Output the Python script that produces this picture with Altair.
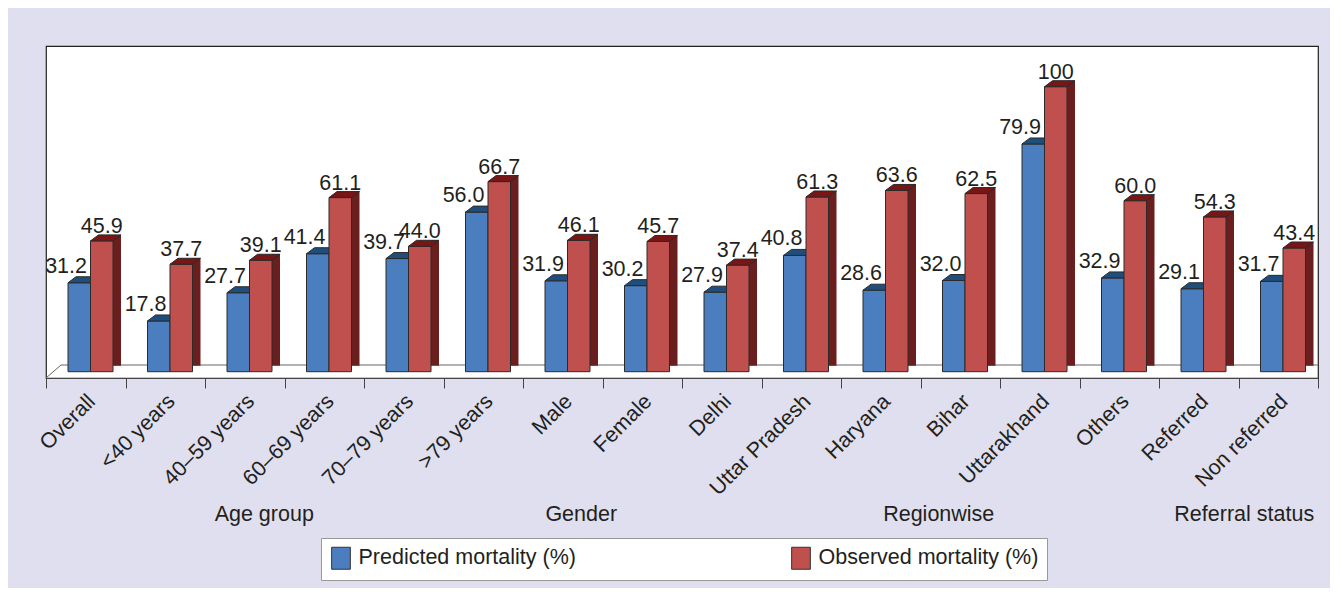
import altair as alt
import pandas as pd

categories = ["Overall", "<40 years", "40–59 years", "60–69 years", "70–79 years",
              ">79 years", "Male", "Female", "Delhi", "Uttar Pradesh", "Haryana",
              "Bihar", "Uttarakhand", "Others", "Referred", "Non referred"]
predicted = [31.2, 17.8, 27.7, 41.4, 39.7, 56.0, 31.9, 30.2, 27.9, 40.8, 28.6, 32.0, 79.9, 32.9, 29.1, 31.7]
observed = [45.9, 37.7, 39.1, 61.1, 44.0, 66.7, 46.1, 45.7, 37.4, 61.3, 63.6, 62.5, 100, 60.0, 54.3, 43.4]
series_names = ["Predicted mortality (%)", "Observed mortality (%)"]
group_names = ["Age group", "Gender", "Regionwise", "Referral status"]
group_anchor = ["40–59 years", "Male", "Bihar", "Non referred"]

df = pd.DataFrame({"cat": categories, "pred": predicted, "obs": observed})
W, H = 1272, 332
FONT = "Liberation Sans"
FS = 21.5
TXT = "#231f20"
BLUE, BLUE_TOP = "#4a7ebf", "#1f4e7c"
RED, RED_TOP, RED_SIDE = "#c0504d", "#7a1515", "#6a1e1e"
OUT = "#2a2a2a"

top_path = "M-0.703,0 L0.703,0 L1.203,-0.375 L-0.203,-0.375 Z"
leg_path = "M-0.85,-1 L0.85,-1 L0.85,1 L-0.85,1 Z"

xenc = alt.X("cat:N", sort=categories,
             scale=alt.Scale(paddingInner=0, paddingOuter=0),
             axis=alt.Axis(title=None, labelAngle=-45, labelAlign="right",
                           labelBaseline="middle", labelFontSize=FS, labelFont=FONT,
                           labelColor=TXT, labelPadding=10, labelOffset=6,
                           tickSize=10, tickColor="#444", domainColor="#444",
                           tickBand="extent", labelOverlap=False, labelLimit=400,
                           grid=False))
ysc = alt.Scale(domain=[-2.21, 114.28], nice=False, zero=False)
cscale = alt.Scale(domain=series_names, range=[BLUE, RED])
legend = alt.Legend(orient="none", legendX=275, legendY=492,
                    direction="horizontal", columns=2, columnPadding=213,
                    title=None, symbolType=leg_path, symbolSize=484,
                    symbolStrokeColor="#333", symbolStrokeWidth=1,
                    symbolOpacity=1, labelFontSize=FS, labelFont=FONT,
                    labelColor=TXT, labelOffset=6, labelLimit=500,
                    fillColor="white", strokeColor="#999", padding=8.5)
cenc = alt.Color("s:N", scale=cscale, legend=legend)

base = alt.Chart(df)
one = alt.Chart(pd.DataFrame({"k": [0]}))

floor_back = one.mark_rule(color="#666", strokeWidth=1).encode(
    x=alt.value(15), x2=alt.value(W), y=alt.value(319))
floor_side = one.mark_rule(color="#666", strokeWidth=1).encode(
    x=alt.value(0), y=alt.value(332), x2=alt.value(15), y2=alt.value(319))

blue_bar = base.transform_calculate(s=f"'{series_names[0]}'").mark_bar(
    width=22.5, xOffset=-6.5, stroke=OUT, strokeWidth=1).encode(
    x=xenc, y=alt.Y("pred:Q", scale=ysc, axis=None), y2=alt.datum(0), color=cenc)
blue_top = base.mark_point(shape=top_path, size=1024, filled=True, fill=BLUE_TOP,
                           stroke=OUT, strokeWidth=1, opacity=1, xOffset=-6.5).encode(
    x=xenc, y=alt.Y("pred:Q", scale=ysc, axis=None))
red_side = base.mark_bar(width=8, xOffset=31.25, yOffset=-6, y2Offset=-6,
                         fill=RED_SIDE, strokeWidth=0).encode(
    x=xenc, y=alt.Y("obs:Q", scale=ysc, axis=None), y2=alt.datum(0))
red_bar = base.transform_calculate(s=f"'{series_names[1]}'").mark_bar(
    width=22.5, xOffset=16, stroke=OUT, strokeWidth=1).encode(
    x=xenc, y=alt.Y("obs:Q", scale=ysc, axis=None), y2=alt.datum(0), color=cenc)
red_top = base.mark_point(shape=top_path, size=1024, filled=True, fill=RED_TOP,
                          stroke=OUT, strokeWidth=1, opacity=1, xOffset=16).encode(
    x=xenc, y=alt.Y("obs:Q", scale=ysc, axis=None))

blue_lab = base.transform_calculate(t="format(datum.pred, '.1f')").mark_text(
    dx=1.25, dy=-10, baseline="alphabetic", align="right", fontSize=FS,
    font=FONT, color=TXT).encode(x=xenc, y=alt.Y("pred:Q", scale=ysc, axis=None),
                                text="t:N")
red_lab = base.transform_calculate(
    t="datum.obs == 100 ? '100' : format(datum.obs, '.1f')").mark_text(
    dx=16, dy=-8, baseline="alphabetic", align="center", fontSize=FS,
    font=FONT, color=TXT).encode(x=xenc, y=alt.Y("obs:Q", scale=ysc, axis=None),
                                text="t:N")

group_dx = [19.5, 18.5, -21.5, -34]
glayers = []
for name, anc, d in zip(group_names, group_anchor, group_dx):
    g = alt.Chart(pd.DataFrame({"cat": [anc], "name": [name]})).mark_text(
        dx=d, baseline="alphabetic", align="center", fontSize=FS, font=FONT,
        color=TXT).encode(x=xenc, y=alt.value(474.5), text="name:N")
    glayers.append(g)

chart = alt.layer(floor_back, floor_side, blue_bar, blue_top, red_side, red_bar,
                  red_top, blue_lab, red_lab, *glayers).properties(
    width=W, height=H,
    autosize=alt.AutoSizeParams(type="none"),
    padding={"left": 38, "top": 38, "right": 12, "bottom": 210},
    background="#dfdfef",
).configure_view(fill="white", stroke="#222", strokeWidth=1.2)

chart.save("out.html", embed_options={"renderer": "svg", "actions": False})
